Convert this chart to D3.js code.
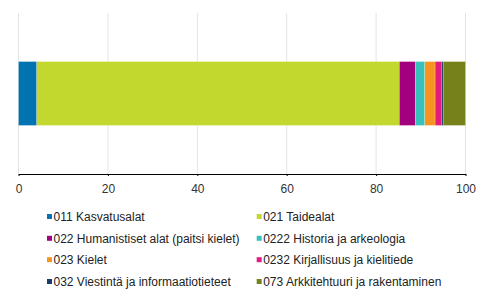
<!DOCTYPE html>
<html>
<head>
<meta charset="utf-8">
<script src="https://cdn.jsdelivr.net/npm/d3@7"></script>
<style>
  body { margin: 0; background: #fff; }
  svg { display: block; }
</style>
</head>
<body>
<div id="chart"></div>
<script>
// Data
var categories = [
    "011 Kasvatusalat",
    "021 Taidealat",
    "022 Humanistiset alat (paitsi kielet)",
    "0222 Historia ja arkeologia",
    "023 Kielet",
    "0232 Kirjallisuus ja kielitiede",
    "032 Viestintä ja informaatiotieteet",
    "073 Arkkitehtuuri ja rakentaminen"
];
var values = [4.1, 81.1, 3.6, 2.1, 2.3, 1.4, 0.4, 5.0];
var colors = ["#0073b0", "#c3d82f", "#a3007f", "#36c2bb", "#f7941d", "#e5197e", "#1b3c68", "#768219"];
var xTicks = [0, 20, 40, 60, 80, 100];

var drawChart = function() {

    // Size
    const width = 491;
    const height = 298;
    const margin = {left: 18.5, right: 25.5, top: 13, bottom: 124};
    const plotTop = margin.top, plotBottom = height - margin.bottom;
    var fontFamily = "'Liberation Sans', Arial, sans-serif";

    var svg = d3.select("#chart").append("svg")
        .attr("width", width)
        .attr("height", height)
        .style("background-color", "#fff");

    var x = d3.scaleLinear()
        .domain([0, 100])
        .range([margin.left, width - margin.right]);

    var y = d3.scaleBand()
        .domain(["all"])
        .range([plotTop, plotBottom])
        .paddingInner(0)
        .paddingOuter(0.76);

    // Gridlines
    svg.append("g")
        .selectAll("line")
        .data(xTicks)
        .enter().append("line")
        .attr("x1", d => x(d)).attr("x2", d => x(d))
        .attr("y1", plotTop).attr("y2", plotBottom)
        .attr("stroke", "#e3e3e3")
        .attr("stroke-width", 1);

    // Stacked segments
    var ends = d3.cumsum(values);
    var segs = values.map((v, i) => ({start: ends[i] - v, end: ends[i], color: colors[i]}));

    svg.append("g")
        .selectAll("rect")
        .data(segs)
        .enter().append("rect")
        .attr("x", d => x(d.start))
        .attr("width", d => x(d.end) - x(d.start))
        .attr("y", y("all"))
        .attr("height", y.bandwidth())
        .attr("fill", d => d.color)
        .attr("stroke", "#fff")
        .attr("stroke-width", 0.4)
        .attr("stroke-opacity", 0.6);

    // X axis
    var axis = svg.append("g")
        .attr("transform", "translate(0," + plotBottom + ")")
        .call(d3.axisBottom(x).tickValues(xTicks).tickSize(2).tickPadding(8.5).tickSizeOuter(0));
    axis.select(".domain").attr("stroke", "#000");
    axis.selectAll(".tick line").attr("stroke", "#000");
    axis.selectAll("text")
        .attr("fill", "#333")
        .attr("font-family", fontFamily)
        .attr("font-size", 12);

    // Legend
    var colX = [47, 256.7];
    var rowY = [216.5, 238.3, 259.7, 281.5];
    var legend = svg.append("g")
        .selectAll("g")
        .data(categories)
        .enter().append("g")
        .attr("transform", (d, i) => "translate(" + colX[i % 2] + "," + rowY[Math.floor(i / 2)] + ")");

    legend.append("rect")
        .attr("x", 0).attr("y", -2.5)
        .attr("width", 5).attr("height", 5)
        .attr("fill", (d, i) => colors[i]);

    legend.append("text")
        .attr("x", 6.5)
        .attr("y", 4.2)
        .attr("fill", "#222")
        .attr("font-family", fontFamily)
        .attr("font-size", 12)
        .text(d => d);
}

window.addEventListener("load", drawChart)
</script>
</body>
</html>
